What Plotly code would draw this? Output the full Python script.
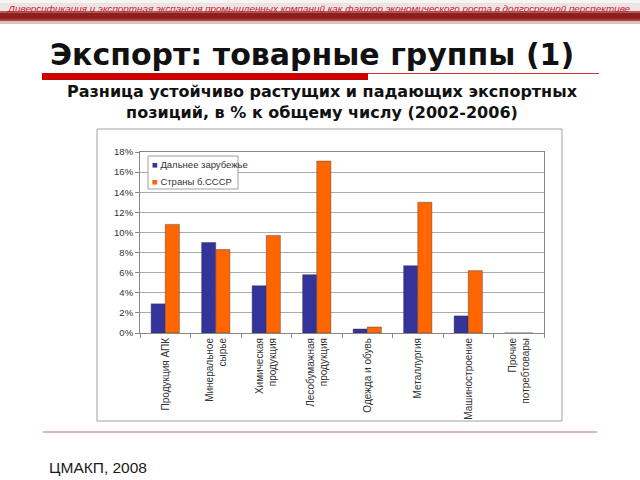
import plotly.graph_objects as go

# ─── Data ─────────────────────────────────────────────────────────────────────
categories = [
    'Продукция АПК',
    'Минеральное<br>сырье',
    'Химическая<br>продукция',
    'Лесобумажная<br>продукция',
    'Одежда и обувь',
    'Металлургия',
    'Машиностроение',
    'Прочие<br>потребтовары',
]
far_abroad = [2.9, 9.0, 4.7, 5.8, 0.4, 6.7, 1.7, 0.0]
cis = [10.8, 8.3, 9.7, 17.1, 0.6, 13.0, 6.2, 0.0]
series_names = ['Дальнее зарубежье', 'Страны б.СССР']
series_colors = ['#333399', '#FF6600']

banner_text = ('Диверсификация и экспортная экспансия промышленных компаний '
               'как фактор экономического роста в долгосрочной перспективе')
title_text = 'Экспорт: товарные группы (1)'
subtitle_lines = ['Разница устойчиво растущих и падающих экспортных',
                  'позиций, в % к общему числу (2002-2006)']
footer_text = 'ЦМАКП, 2008'

# ─── Layout helpers (plot area in pixels) ─────────────────────────────────────
W, H = 640, 480
PL, PR, PT, PB = 140, 544, 152, 333


def px(x):
    return (x - PL) / (PR - PL)


def py(y):
    return (PB - y) / (PB - PT)


fig = go.Figure()
for name, vals, color in zip(series_names, [far_abroad, cis], series_colors):
    fig.add_trace(go.Bar(
        x=categories, y=vals, name=name, showlegend=False,
        marker=dict(color=color, line=dict(color='#333333', width=0.4)),
    ))

shapes = []


def rect(x0, y0, x1, y1, fill, line_color=None, width=0, layer='below'):
    shapes.append(dict(
        type='rect', xref='paper', yref='paper',
        x0=px(x0), x1=px(x1), y0=py(y0), y1=py(y1),
        fillcolor=fill, line=dict(color=line_color or fill, width=width),
        layer=layer,
    ))


# top banner gradient
for y0, y1, c in [(0, 3, '#f7f4f4'), (3, 11, '#ece4e4'), (11, 13, '#b45a5a'),
                  (13, 19, '#8e1f1f'), (19, 21, '#a64646'), (21, 24, '#dcc0c0')]:
    rect(0, y0, W, y1, c)

# title underline
rect(42, 73, 368, 80, '#cc0000')
shapes.append(dict(type='line', xref='paper', yref='paper',
                   x0=px(368), x1=px(599), y0=py(73.5), y1=py(73.5),
                   line=dict(color='#cc3333', width=1)))

# chart frame
shapes.append(dict(type='rect', xref='paper', yref='paper',
                   x0=px(97), x1=px(562), y0=py(129), y1=py(421),
                   line=dict(color='#a0a0a0', width=1), layer='below'))

# legend box
rect(148, 156, 238, 189, 'white', '#a0a0a0', 1, layer='above')

# footer line
shapes.append(dict(type='line', xref='paper', yref='paper',
                   x0=px(43), x1=px(597), y0=py(432), y1=py(432),
                   line=dict(color='#c8a098', width=1.5)))


def note(text, x, y, size, family='Liberation Sans', color='#111111', xanchor='center'):
    return dict(text=text, x=px(x), y=py(y), xref='paper', yref='paper',
                showarrow=False, xanchor=xanchor, yanchor='middle',
                font=dict(family=family, size=size, color=color))


annotations = [
    note('<i>' + banner_text + '</i>', 319, 8, 9.9, color='#c0202a'),
    note('<b>' + title_text + '</b>', 312, 55, 30, family='DejaVu Sans'),
    note('<b>' + subtitle_lines[0] + '</b><br><b>' + subtitle_lines[1] + '</b>',
         322, 102, 16, family='DejaVu Sans'),
    note(footer_text, 47, 467, 15.5, color='#1a1a1a', xanchor='left'),
]
# legend entries
for i, (name, color) in enumerate(zip(series_names, series_colors)):
    yy = 164 + i * 17
    annotations.append(note('<span style="color:%s">■</span> %s' % (color, name),
                            150, yy, 9.5, color='#333333', xanchor='left'))

fig.update_layout(
    width=W, height=H,
    margin=dict(l=PL, r=W - PR, t=PT, b=H - PB, autoexpand=False),
    paper_bgcolor='white', plot_bgcolor='white',
    barmode='group', bargap=0.44, bargroupgap=0,
    showlegend=False,
    font=dict(family='Liberation Sans'),
    shapes=shapes,
    annotations=annotations,
)
fig.update_yaxes(
    range=[0, 18], dtick=2, ticksuffix='%',
    showgrid=True, gridcolor='#ababab', gridwidth=1,
    showline=True, linecolor='#888888', mirror=True,
    ticks='outside', ticklen=4, tickcolor='#888888',
    tickfont=dict(family='Liberation Sans', size=9.5, color='#333333'),
    zeroline=False,
)
fig.update_xaxes(
    tickangle=-90, tickson='boundaries', ticks='outside', ticklen=4,
    tickcolor='#888888', showline=True, linecolor='#888888', mirror=True,
    tickfont=dict(family='Liberation Sans', size=10, color='#333333'),
)

fig.write_html('out.html', config={'displayModeBar': False},
               post_script="document.body.style.margin='0';")
